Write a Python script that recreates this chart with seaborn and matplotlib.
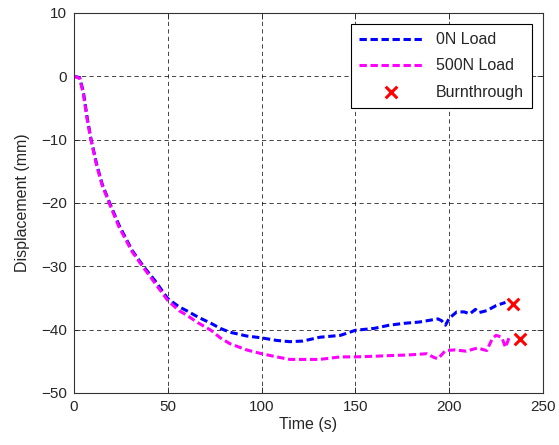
import pandas as pd
import seaborn as sns
import matplotlib.pyplot as plt

# Time (s) and displacement (mm)
t_0n = [0, 3, 5, 7, 9, 12, 15, 19, 24, 31, 37, 43, 50, 56, 60, 66, 73, 78, 83,
        92, 100, 108, 115, 122, 131, 142, 150, 160, 168, 176, 184, 190, 194,
        196, 198, 200, 204, 208, 211, 214, 216, 220, 225, 230]
d_0n = [0, -0.2, -2.5, -6.5, -9.8, -13.8, -17, -20, -23.5, -27.5, -30, -32.2,
        -35.1, -36.4, -37, -38, -39, -39.8, -40.4, -41, -41.3, -41.7, -41.9,
        -41.8, -41.2, -40.9, -40.1, -39.8, -39.3, -39.0, -38.8, -38.5, -38.3,
        -38.6, -39.3, -38.2, -37.2, -37.2, -37.5, -36.8, -37.3, -37.0, -36.2,
        -35.7]

t_500n = [0, 3, 5, 7, 9, 12, 15, 19, 24, 31, 37, 43, 50, 56, 60, 66, 73, 78,
          83, 92, 100, 108, 115, 122, 131, 142, 150, 160, 168, 178, 188, 192,
          194, 198, 203, 209, 215, 220, 223, 225, 228, 230, 232]
d_500n = [0, -0.3, -2.8, -6.8, -10, -14, -17.2, -20.2, -23.8, -27.7, -30.2,
          -32.6, -35.4, -37, -37.7, -38.9, -40.1, -41.3, -42.2, -43.2, -43.8,
          -44.3, -44.7, -44.7, -44.7, -44.3, -44.3, -44.2, -44.1, -44.0, -43.8,
          -44.4, -44.6, -43.3, -43.2, -43.4, -42.9, -43.3, -41.4, -40.9, -41.2,
          -42.8, -41.2]

t_burn = [233.8, 237.7]
d_burn = [-35.9, -41.4]

df0 = pd.DataFrame({'Time': t_0n, 'Disp': d_0n})
df5 = pd.DataFrame({'Time': t_500n, 'Disp': d_500n})
dfb = pd.DataFrame({'Time': t_burn, 'Disp': d_burn})

sns.set_style('ticks')
plt.rcParams['font.family'] = ['Liberation Sans', 'DejaVu Sans']

fig = plt.figure(figsize=(5.59, 4.45), dpi=100)
ax = fig.add_axes([0.1324, 0.1169, 0.8390, 0.8539])

sns.lineplot(data=df0, x='Time', y='Disp', sort=False, color='#0000ff',
             linewidth=2.2, dashes=False, ax=ax, label='0N Load')
sns.lineplot(data=df5, x='Time', y='Disp', sort=False, color='#ff00ff',
             linewidth=2.2, dashes=False, ax=ax, label='500N Load')
for ln in ax.get_lines():
    ln.set_linestyle((0, (2.4, 1.2)))
sns.scatterplot(data=dfb, x='Time', y='Disp', marker='x', color='#ff0000',
                s=70, linewidth=2.2, ax=ax, label='Burnthrough', zorder=5)

ax.set_xlim(0, 250)
ax.set_ylim(-50, 10)
ax.set_xticks(range(0, 251, 50))
ax.set_yticks(range(-50, 11, 10))
ax.grid(True, color='k', linestyle=(0, (5, 4)), linewidth=0.6, alpha=0.85)
ax.tick_params(direction='in', top=True, right=True, length=4, labelsize=11,
               width=0.6, pad=5)
for sp in ax.spines.values():
    sp.set_linewidth(0.8)
    sp.set_color('#333333')

ax.set_xlabel('Time (s)', fontsize=11.5, labelpad=2)
ax.set_ylabel('Displacement (mm)', fontsize=11.5, labelpad=8)

leg = ax.legend(loc='upper right', fontsize=11.5, frameon=True, fancybox=False,
                edgecolor='k', framealpha=1, borderaxespad=0.7,
                handlelength=4.0, labelspacing=0.7, borderpad=0.5)
leg.get_frame().set_linewidth(0.8)

fig.savefig('out.png', dpi=100)
